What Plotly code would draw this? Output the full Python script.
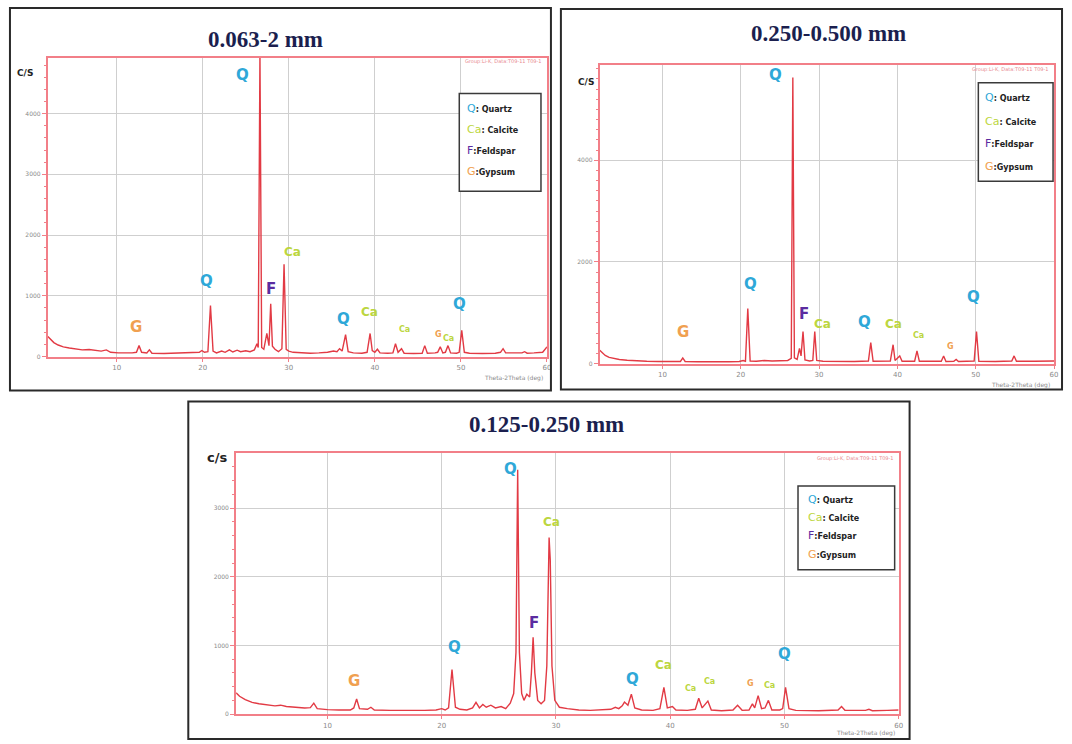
import plotly.graph_objects as go

# ---------------- data ----------------
p1_theta = [2.0, 2.3, 2.7, 3.2, 3.8, 4.5, 5.2, 6.0, 6.8, 7.5, 8.2, 8.8, 9.3, 10.2, 11.0, 11.8, 12.3, 12.6, 12.9,
            13.5, 13.8, 14.1, 15.5, 17.0, 18.5, 19.6, 19.9, 20.2, 20.6, 20.9, 21.2, 21.6, 22.2, 22.6, 23.1, 23.5,
            24.0, 24.4, 25.0, 25.5, 26.0, 26.3, 26.45, 26.65, 26.85, 27.1, 27.45, 27.7, 27.9, 28.1, 28.4, 28.8,
            29.2, 29.45, 29.7, 30.0, 30.5, 31.5, 32.5, 33.5, 34.5, 35.2, 35.6, 35.9, 36.2, 36.6, 36.9, 37.5, 38.5,
            39.1, 39.45, 39.7, 40.0, 40.3, 40.6, 41.5, 42.1, 42.4, 42.7, 43.1, 43.4, 44.5, 45.5, 45.8, 46.1, 47.0,
            47.3, 47.6, 47.9, 48.2, 48.5, 48.8, 49.5, 49.8, 50.1, 50.4, 51.0, 52.5, 54.0, 54.6, 54.9, 55.2, 56.5,
            57.1, 57.4, 57.7, 58.5, 59.5, 60.0]
p1_counts = [330, 280, 230, 190, 160, 140, 125, 110, 115, 105, 90, 110, 70, 60, 55, 60, 70, 180, 70,
             60, 110, 55, 50, 55, 60, 70, 100, 70, 80, 840, 90, 60, 90, 70, 110, 75,
             105, 80, 95, 80, 110, 210, 150, 5000, 150, 120, 380, 180, 870, 170, 120, 80,
             130, 1520, 120, 90, 70, 60, 55, 60, 70, 90, 80, 130, 90, 360, 80, 60, 55,
             70, 380, 100, 70, 120, 60, 55, 60, 210, 70, 130, 55, 50, 55, 180, 55, 60,
             70, 160, 60, 70, 180, 60, 55, 70, 430, 70, 55, 50, 55, 70, 130, 60, 55,
             60, 80, 55, 60, 70, 160]

p2_theta = [2.0, 2.3, 2.7, 3.2, 3.8, 4.5, 5.5, 6.5, 8.0, 9.5, 11.0, 12.3, 12.6, 12.9, 14.5, 16.5, 18.5, 19.8,
            20.3, 20.6, 20.9, 21.2, 22.0, 23.0, 24.0, 25.0, 26.0, 26.45, 26.65, 26.85, 27.2, 27.5, 27.7, 27.95,
            28.2, 28.8, 29.2, 29.45, 29.7, 30.5, 32.5, 34.5, 36.3, 36.6, 36.9, 38.5, 39.1, 39.45, 39.7, 40.3,
            40.6, 42.2, 42.5, 42.8, 44.5, 45.6, 45.9, 46.2, 47.2, 47.5, 47.8, 49.8, 50.1, 50.4, 52.5, 54.6,
            54.9, 55.2, 57.5, 60.0]
p2_counts = [260, 210, 160, 120, 95, 80, 65, 55, 45, 40, 35, 40, 110, 40, 35, 30, 35, 40,
             60, 45, 1080, 50, 45, 60, 50, 55, 60, 100, 5630, 110, 80, 300, 150, 630,
             70, 50, 60, 630, 60, 45, 40, 40, 50, 410, 45, 40, 50, 370, 60, 150,
             45, 45, 250, 45, 40, 45, 150, 40, 45, 80, 40, 50, 630, 45, 40, 50,
             150, 45, 45, 50]

p3_theta = [2.0, 2.3, 2.8, 3.4, 4.0, 4.7, 5.4, 5.9, 6.4, 7.2, 8.0, 8.5, 8.8, 9.1, 10.0, 11.0, 12.0, 12.3, 12.55,
            12.8, 13.5, 13.8, 14.1, 15.5, 17.0, 18.5, 19.5, 20.0, 20.3, 20.6, 20.9, 21.2, 21.6, 22.2, 22.7, 23.0,
            23.3, 23.6, 23.9, 24.3, 24.7, 25.2, 25.6, 26.0, 26.3, 26.5, 26.65, 26.8, 27.0, 27.2, 27.45, 27.7,
            27.85, 28.0, 28.15, 28.4, 28.7, 29.0, 29.2, 29.4, 29.5, 29.65, 29.9, 30.3, 31.0, 32.0, 33.0, 34.0,
            34.8, 35.2, 35.5, 35.8, 36.0, 36.3, 36.6, 36.9, 37.5, 38.5, 39.1, 39.45, 39.75, 40.2, 40.5, 41.5,
            42.2, 42.5, 42.8, 43.3, 43.6, 44.5, 45.5, 45.9, 46.3, 46.9, 47.2, 47.4, 47.7, 48.0, 48.3, 48.6,
            48.9, 49.6, 49.85, 50.1, 50.4, 51.0, 53.0, 54.7, 55.0, 55.3, 57.1, 57.4, 57.7, 59.0, 60.0]
p3_counts = [310, 260, 210, 170, 150, 130, 120, 130, 110, 100, 90, 95, 160, 80, 65, 60, 60, 90, 220,
             80, 70, 100, 60, 55, 50, 55, 60, 80, 60, 90, 650, 100, 70, 60, 90, 170,
             90, 140, 100, 130, 90, 110, 80, 160, 300, 900, 3560, 900, 300, 200, 290, 250,
             600, 1120, 600, 200, 150, 200, 700, 2570, 2250, 700, 200, 100, 80, 60, 55, 60,
             70, 100, 80, 120, 175, 130, 290, 90, 60, 55, 80, 390, 90, 110, 60, 55,
             70, 230, 90, 190, 60, 50, 60, 130, 55, 60, 150, 90, 270, 80, 90, 200,
             60, 60, 80, 390, 80, 55, 50, 60, 110, 55, 55, 70, 50, 55, 60]

panel_titles = ["0.063-2 mm", "0.250-0.500 mm", "0.125-0.250 mm"]
x_ticks = [10, 20, 30, 40, 50, 60]
y_ticks = [[0, 1000, 2000, 3000, 4000], [0, 2000, 4000], [0, 1000, 2000, 3000]]
legend_codes = ["Q", "Ca", "F", "G"]
legend_names = [": Quartz", ": Calcite", ":Feldspar", ":Gypsum"]

# peak labels: mineral code, 2theta, counts
p1_lab = ["Q", "Q", "F", "Ca", "G", "Q", "Ca", "Ca", "G", "Ca", "Q"]
p1_lab_x = [24.6, 20.4, 27.9, 30.4, 12.3, 36.3, 39.4, 43.5, 47.4, 48.6, 49.8]
p1_lab_y = [4640, 1250, 1115, 1720, 490, 620, 740, 440, 370, 300, 870]
p2_lab = ["Q", "Q", "F", "Ca", "G", "Q", "Ca", "Ca", "G", "Q"]
p2_lab_x = [24.4, 21.2, 28.1, 30.4, 12.6, 35.8, 39.5, 42.7, 46.8, 49.7]
p2_lab_y = [5670, 1570, 980, 780, 630, 820, 780, 550, 330, 1310]
p3_lab = ["Q", "Ca", "F", "Q", "G", "Q", "Ca", "Ca", "Ca", "G", "Ca", "Q"]
p3_lab_x = [26.0, 29.6, 28.1, 21.1, 12.3, 36.7, 39.4, 41.8, 43.4, 47.0, 48.7, 50.0]
p3_lab_y = [3565, 2800, 1320, 970, 480, 510, 710, 380, 480, 450, 420, 870]

# ---------------- styles ----------------
W, H = 1072, 744
RED = "#e23a44"
FRAME = "#f27f88"
GRID = "#cfcfcf"
COL = {"Q": "#2fa8d8", "Ca": "#bcd640", "F": "#5b2ca0", "G": "#f0a050"}


def fx(p):
    return p / W


def fy(p):
    return 1 - p / H


# plot-area pixel boxes  (left, right, top, bottom)
boxes = [(48, 549, 58, 358), (602, 1058, 65, 365), (237, 902, 455, 717)]
yranges = [[0, 4920], [0, 5880], [0, 3800]]
outer = [(10, 553, 8, 392), (563, 1066, 9, 391), (189, 913, 403, 742)]
title_pos = [(266, 40), (832, 34), (549, 426)]
cs_pos = [(25, 73, "C/S", 9), (588, 82, "C/S", 9), (218, 459, "c/s", 13)]
xt_pos = [(547, 380), (1056, 387), (900, 736)]
grp_pos = [(546, 62), (1055, 70), (899, 460)]
leg_box = [(461, 543, 94, 192), (982, 1057, 83, 182), (801, 898, 488, 572)]
leg_rows = [[109, 130, 151, 172], [98, 122, 144, 167], [502, 520, 538, 557]]
leg_x = [467, 987, 809]

fig = go.Figure()
series = [(p1_theta, p1_counts), (p2_theta, p2_counts), (p3_theta, p3_counts)]
labels = [(p1_lab, p1_lab_x, p1_lab_y), (p2_lab, p2_lab_x, p2_lab_y), (p3_lab, p3_lab_x, p3_lab_y)]

annotations = []
shapes = []
layout_axes = {}
for i in range(3):
    sx = "" if i == 0 else str(i + 1)
    xs, ys = series[i]
    fig.add_trace(go.Scatter(x=xs, y=ys, mode="lines", line=dict(color=RED, width=1.4),
                             xaxis="x" + sx, yaxis="y" + sx, showlegend=False, hoverinfo="skip"))
    l, r, t, b = boxes[i]
    layout_axes["xaxis" + sx] = dict(
        domain=[fx(l), fx(r)], anchor="y" + sx, range=[2, 60],
        tickvals=x_ticks, ticktext=[str(v) for v in x_ticks],
        tickfont=dict(size=7, color="#8a8a8a", family="DejaVu Sans"),
        ticks="outside", ticklen=3, tickcolor=FRAME,
        showgrid=True, gridcolor=GRID, gridwidth=1, zeroline=False,
        showline=True, linecolor=FRAME, linewidth=2, mirror=True, fixedrange=True)
    layout_axes["yaxis" + sx] = dict(
        domain=[fy(b), fy(t)], anchor="x" + sx, range=yranges[i],
        tickvals=y_ticks[i], ticktext=[str(v) for v in y_ticks[i]],
        tickfont=dict(size=6, color="#8a8a8a", family="DejaVu Sans"),
        ticks="outside", ticklen=4, tickcolor=FRAME,
        minor=dict(ticks="outside", ticklen=2, tickcolor=FRAME,
                   tickvals=list(range(0, int(yranges[i][1]), 200)), showgrid=False),
        showgrid=True, gridcolor=GRID, gridwidth=1, zeroline=False,
        showline=True, linecolor=FRAME, linewidth=2, mirror=True, fixedrange=True)

    # outer black frame
    ol, orr, ot, ob = outer[i]
    shapes.append(dict(type="rect", xref="paper", yref="paper", x0=fx(ol), x1=fx(orr), y0=fy(ob), y1=fy(ot),
                       line=dict(color="#2a2a2a", width=2), layer="above"))
    # legend box
    ll, lr, lt, lb = leg_box[i]
    shapes.append(dict(type="rect", xref="paper", yref="paper", x0=fx(ll), x1=fx(lr), y0=fy(lb), y1=fy(lt),
                       line=dict(color="#3a3a3a", width=1.5), fillcolor="white", layer="above"))
    for k in range(4):
        code = legend_codes[k]
        annotations.append(dict(
            xref="paper", yref="paper", x=fx(leg_x[i]), y=fy(leg_rows[i][k]), xanchor="left", yanchor="middle",
            showarrow=False,
            text="<span style='color:%s;font-size:11px'>%s</span><b>%s</b>" % (COL[code], code, legend_names[k]),
            font=dict(size=8, color="#222222", family="DejaVu Sans")))

    # title
    annotations.append(dict(xref="paper", yref="paper", x=fx(title_pos[i][0]), y=fy(title_pos[i][1]),
                            xanchor="center", yanchor="middle", showarrow=False,
                            text="<b>%s</b>" % panel_titles[i],
                            font=dict(size=23, color="#1b1f4f", family="Liberation Serif")))
    # C/S label
    cx, cy, ctext, csz = cs_pos[i]
    annotations.append(dict(xref="paper", yref="paper", x=fx(cx), y=fy(cy), xanchor="center", yanchor="middle",
                            showarrow=False, text="<b>%s</b>" % ctext,
                            font=dict(size=csz, color="#222222", family="DejaVu Sans")))
    # x axis caption
    annotations.append(dict(xref="paper", yref="paper", x=fx(xt_pos[i][0]), y=fy(xt_pos[i][1]),
                            xanchor="right", yanchor="middle", showarrow=False,
                            text="Theta-2Theta (deg)",
                            font=dict(size=6, color="#8a8a8a", family="DejaVu Sans")))
    # tiny info text in the corner
    annotations.append(dict(xref="paper", yref="paper", x=fx(grp_pos[i][0]), y=fy(grp_pos[i][1]),
                            xanchor="right", yanchor="middle", showarrow=False,
                            text="Group:Li-K, Data:T09-11 T09-1",
                            font=dict(size=5, color="#e88a90", family="DejaVu Sans")))
    # peak labels
    codes, lx, ly = labels[i]
    for k, code in enumerate(codes):
        small = (i == 0 and k in (7, 8, 9)) or (i == 1 and k in (7, 8)) or (i == 2 and k in (7, 8, 9, 10))
        sz = 8 if small else (15 if code in ("Q", "F", "G") else 12)
        annotations.append(dict(xref="x" + sx, yref="y" + sx, x=lx[k], y=ly[k], xanchor="center",
                                yanchor="middle", showarrow=False, text="<b>%s</b>" % code,
                                font=dict(size=sz, color=COL[code], family="DejaVu Sans")))

fig.update_layout(width=W, height=H, margin=dict(l=0, r=0, t=0, b=0),
                  paper_bgcolor="white", plot_bgcolor="white",
                  annotations=annotations, shapes=shapes, showlegend=False, **layout_axes)

fig.write_html("out.html")
